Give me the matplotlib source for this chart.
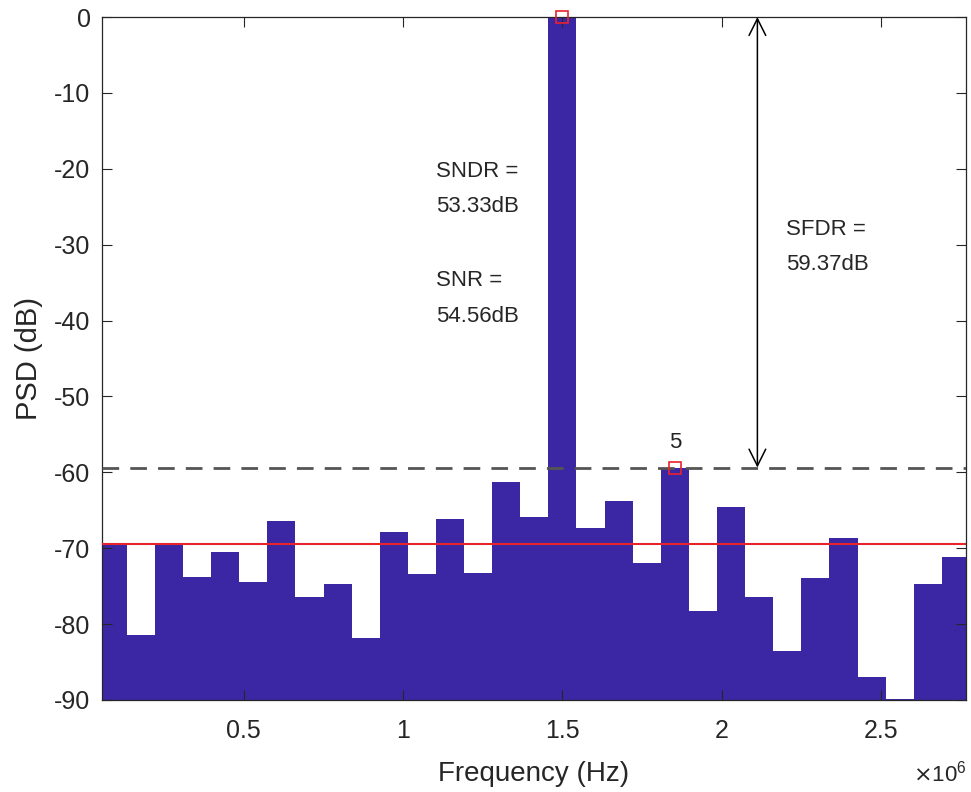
import numpy as np
import matplotlib
matplotlib.use('Agg')
import matplotlib.pyplot as plt
from matplotlib.ticker import FuncFormatter

plt.rcParams['font.family'] = ['Liberation Sans', 'DejaVu Sans']
plt.rcParams['axes.unicode_minus'] = False

# spectrum bins (fs = 6 MHz, N = 68 -> bin width 88.2 kHz)
fs = 6e6
N = 68
bins = list(range(1, 32))
psd_db = [-69.5, -81.4, -69.3, -73.8, -70.5, -74.5, -66.4, -76.4, -74.7, -81.8,
          -67.9, -73.4, -66.1, -73.3, -61.3, -65.9, 0.0, -67.4, -63.8, -72.0,
          -59.37, -78.3, -64.6, -76.4, -83.6, -73.9, -68.6, -87.0, -89.9, -74.7,
          -71.2]
noise_floor = -69.4
sfdr = 59.37
sndr = 53.33
snr = 54.56
harm_bin = 21
harm_label = '5'
fund_bin = 17

df = fs / N
freq = np.array(bins) * df
psd = np.array(psd_db)

fig = plt.figure(figsize=(9.71, 7.92), dpi=100)
ax = fig.add_axes([0.1047, 0.1162, 0.8902, 0.8623])

ax.bar(freq, psd + 90, bottom=-90, width=df, color='#3b27a3', edgecolor='none', zorder=1)

ax.axhline(noise_floor, color='#e8232b', lw=1.5, zorder=3)
ax.axhline(-sfdr, color='#555555', lw=2, ls=(0, (6, 4)), zorder=3)

# markers on fundamental and largest spur
ax.plot([fund_bin * df, harm_bin * df], [psd[fund_bin - 1], psd[harm_bin - 1]], 's',
        ms=9, mfc='none', mec='#e8232b', mew=1.2, clip_on=False, zorder=5)
ax.text(harm_bin * df, -56.1, harm_label, ha='center', va='center', fontsize=16, color='#222222')

# SFDR arrow
xa = 2.112e6
ax.annotate('', xy=(xa, 0), xytext=(xa, -sfdr),
            arrowprops=dict(arrowstyle='<->', color='black', lw=1.1,
                            shrinkA=0, shrinkB=0, mutation_scale=30))

txt = dict(ha='left', va='center', fontsize=16, color='#262626', linespacing=1.9)
ax.text(2.202e6, -30.3, 'SFDR =\n%.2fdB' % sfdr, **txt)
ax.text(1.102e6, -22.7, 'SNDR =\n%.2fdB' % sndr, **txt)
ax.text(1.102e6, -37.1, 'SNR =\n%.2fdB' % snr, **txt)

ax.set_xlim(0.0536e6, 2.767e6)
ax.set_ylim(-90, 0)
ax.set_yticks(np.arange(-90, 1, 10))
ax.set_xticks([0.5e6, 1e6, 1.5e6, 2e6, 2.5e6])
ax.xaxis.set_major_formatter(FuncFormatter(lambda v, p: ('%g' % (v / 1e6))))
ax.tick_params(direction='in', length=7, width=0.8, top=True, right=True,
               labelsize=18, colors='#262626')
ax.tick_params(axis='x', pad=14)
ax.tick_params(axis='y', pad=8)
for s in ax.spines.values():
    s.set_color('#262626')
    s.set_linewidth(0.9)

ax.set_xlabel('Frequency (Hz)', fontsize=20, color='#262626', labelpad=13)
ax.set_ylabel('PSD (dB)', fontsize=21, color='#262626', labelpad=8)
ax.text(1.0, -0.108, r'$\times\mathregular{10^6}$', transform=ax.transAxes,
        ha='right', va='center', fontsize=16, color='#262626')

fig.savefig('out.png', dpi=100)
